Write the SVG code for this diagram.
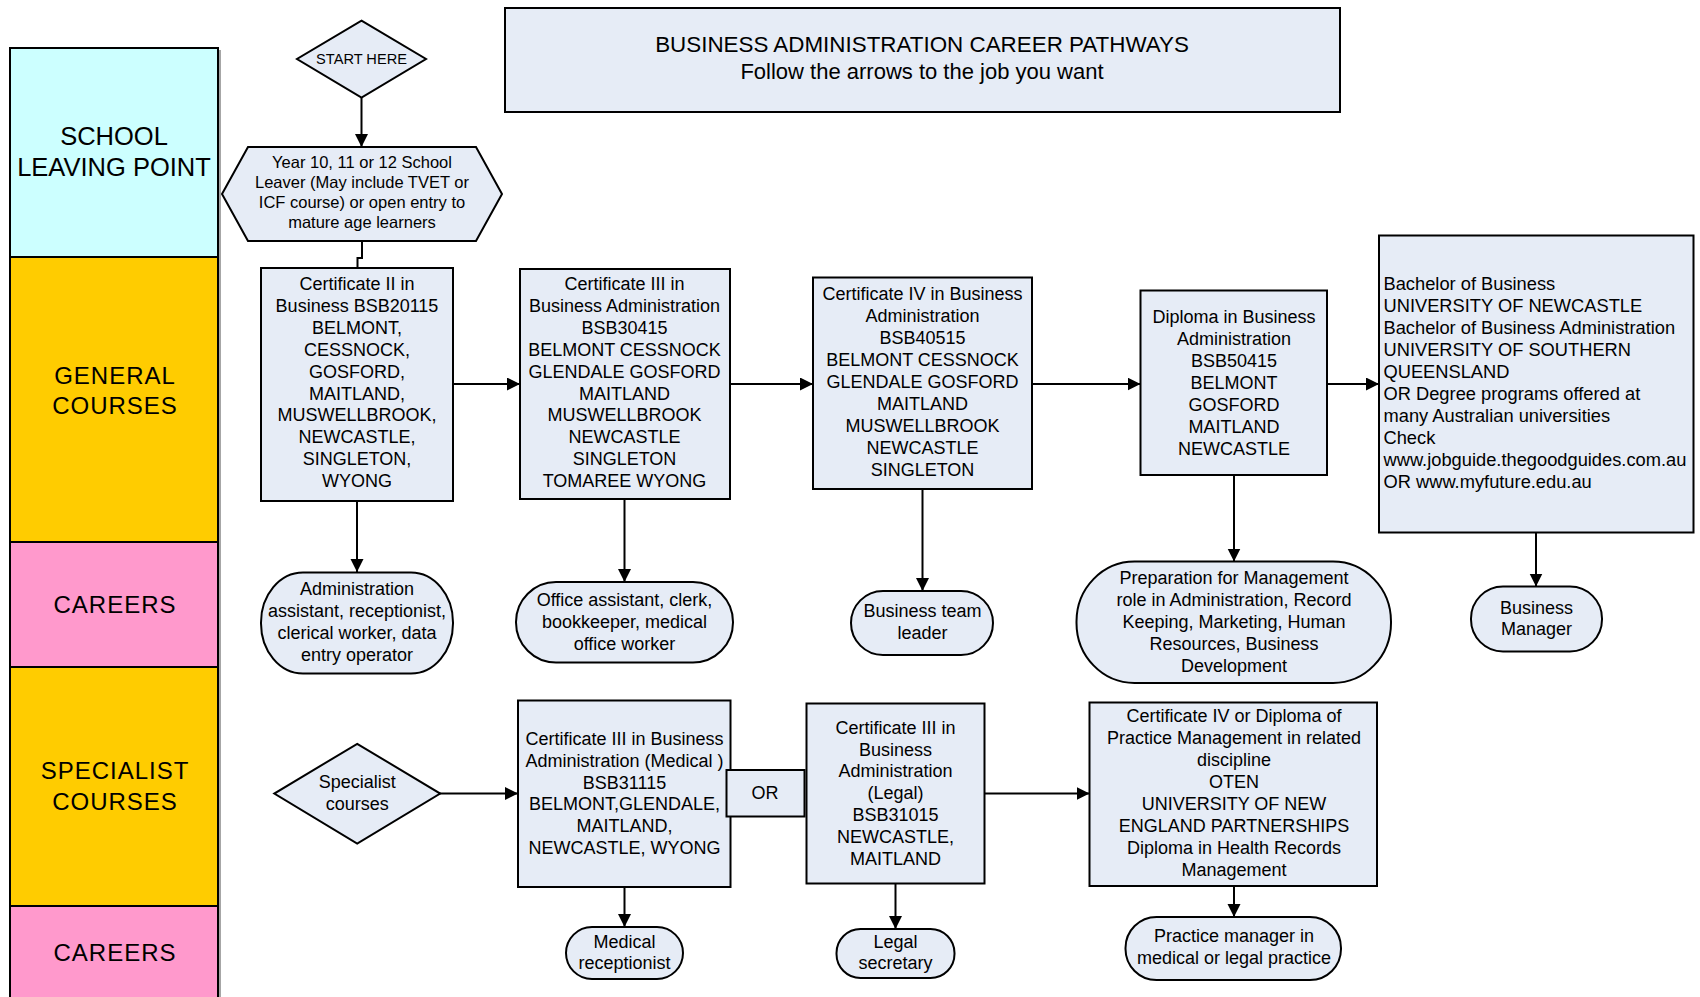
<svg xmlns="http://www.w3.org/2000/svg" width="1700" height="997" viewBox="0 0 1700 997">
<style>
.n{fill:#E6ECF6;stroke:#000;stroke-width:2}
.t{font-family:"Liberation Sans",Arial,sans-serif;font-size:18px;fill:#000;text-anchor:middle}
.s{font-size:16.5px}
.l{text-anchor:start;font-size:18.3px}
.lane{stroke:#000;stroke-width:2}
.lt{font-family:"Liberation Sans",Arial,sans-serif;font-size:24px;letter-spacing:1px;fill:#000;text-anchor:middle}
.c{fill:none;stroke:#000;stroke-width:2}
</style>
<defs>
<marker id="ah" markerWidth="14" markerHeight="14" refX="13" refY="6.5" orient="auto" markerUnits="userSpaceOnUse">
<path d="M0,0 L13,6.5 L0,13 Z" fill="#000"/>
</marker>
</defs>
<rect width="1700" height="997" fill="#fff"/>

<g id="lanes">
<line x1="220" y1="50" x2="220" y2="997" stroke="#888" stroke-width="1.5"/>
<rect class="lane" x="10" y="48" width="208" height="209" fill="#CCFFFF"/>
<rect class="lane" x="10" y="257" width="208" height="285" fill="#FFCC00"/>
<rect class="lane" x="10" y="542" width="208" height="125" fill="#FF99CC"/>
<rect class="lane" x="10" y="667" width="208" height="239" fill="#FFCC00"/>
<rect class="lane" x="10" y="906" width="208" height="100" fill="#FF99CC"/>
<text class="t" x="114" y="145" style="font-size:25.5px">SCHOOL</text>
<text class="t" x="114" y="176" style="font-size:25.5px">LEAVING POINT</text>
<text class="lt" x="115" y="384">GENERAL</text>
<text class="lt" x="115" y="414">COURSES</text>
<text class="lt" x="115" y="613">CAREERS</text>
<text class="lt" x="115" y="779">SPECIALIST</text>
<text class="lt" x="115" y="810">COURSES</text>
<text class="lt" x="115" y="961">CAREERS</text>
</g>

<g id="title">
<rect class="n" x="505" y="8" width="835" height="104"/>
<text class="t" x="922" y="52" style="font-size:22.4px">BUSINESS ADMINISTRATION CAREER PATHWAYS</text>
<text class="t" x="922" y="79" style="font-size:22px">Follow the arrows to the job you want</text>
</g>

<g id="connectors">
<path class="c" d="M361.5,97.6 V147" marker-end="url(#ah)"/>
<path class="c" d="M362,241 V258 H357.5 V268"/>
<path class="c" d="M453,384 H520" marker-end="url(#ah)"/>
<path class="c" d="M730,384 H813" marker-end="url(#ah)"/>
<path class="c" d="M1032,384 H1140.5" marker-end="url(#ah)"/>
<path class="c" d="M1327,384 H1379" marker-end="url(#ah)"/>
<path class="c" d="M357,501 V572" marker-end="url(#ah)"/>
<path class="c" d="M624.5,499 V582" marker-end="url(#ah)"/>
<path class="c" d="M922.5,489 V591" marker-end="url(#ah)"/>
<path class="c" d="M1234,475 V561.5" marker-end="url(#ah)"/>
<path class="c" d="M1536,532.5 V586.5" marker-end="url(#ah)"/>
<path class="c" d="M440,793.6 H518" marker-end="url(#ah)"/>
<path class="c" d="M984.5,793.6 H1089.5" marker-end="url(#ah)"/>
<path class="c" d="M624.5,887 V927" marker-end="url(#ah)"/>
<path class="c" d="M895.5,884 V929" marker-end="url(#ah)"/>
<path class="c" d="M1234,886 V917" marker-end="url(#ah)"/>
</g>

<g id="start">
<polygon class="n" points="361.5,20.6 426,59 361.5,97.6 297,59"/>
<text class="t" x="361.5" y="64" style="font-size:14.6px">START HERE</text>
</g>

<g id="leaver">
<polygon class="n" points="248,147 476,147 502,194 476,241 248,241 222,194"/>
<text class="t s" x="362" y="168">Year 10, 11 or 12 School</text>
<text class="t s" x="362" y="188">Leaver (May include TVET or</text>
<text class="t s" x="362" y="208">ICF course) or open entry to</text>
<text class="t s" x="362" y="228">mature age learners</text>
</g>

<g id="cert2">
<rect class="n" x="261" y="268" width="192" height="233"/>
<text class="t" x="357" y="290">Certificate II in</text>
<text class="t" x="357" y="312">Business BSB20115</text>
<text class="t" x="357" y="334">BELMONT,</text>
<text class="t" x="357" y="356">CESSNOCK,</text>
<text class="t" x="357" y="378">GOSFORD,</text>
<text class="t" x="357" y="400">MAITLAND,</text>
<text class="t" x="357" y="421">MUSWELLBROOK,</text>
<text class="t" x="357" y="443">NEWCASTLE,</text>
<text class="t" x="357" y="465">SINGLETON,</text>
<text class="t" x="357" y="487">WYONG</text>
</g>

<g id="cert3">
<rect class="n" x="520" y="269" width="210" height="230"/>
<text class="t" x="624.5" y="290">Certificate III in</text>
<text class="t" x="624.5" y="312">Business Administration</text>
<text class="t" x="624.5" y="334">BSB30415</text>
<text class="t" x="624.5" y="356">BELMONT CESSNOCK</text>
<text class="t" x="624.5" y="378">GLENDALE GOSFORD</text>
<text class="t" x="624.5" y="400">MAITLAND</text>
<text class="t" x="624.5" y="421">MUSWELLBROOK</text>
<text class="t" x="624.5" y="443">NEWCASTLE</text>
<text class="t" x="624.5" y="465">SINGLETON</text>
<text class="t" x="624.5" y="487">TOMAREE WYONG</text>
</g>

<g id="cert4">
<rect class="n" x="813" y="277.5" width="219" height="211.5"/>
<text class="t" x="922.5" y="300">Certificate IV in Business</text>
<text class="t" x="922.5" y="322">Administration</text>
<text class="t" x="922.5" y="344">BSB40515</text>
<text class="t" x="922.5" y="366">BELMONT CESSNOCK</text>
<text class="t" x="922.5" y="388">GLENDALE GOSFORD</text>
<text class="t" x="922.5" y="410">MAITLAND</text>
<text class="t" x="922.5" y="432">MUSWELLBROOK</text>
<text class="t" x="922.5" y="454">NEWCASTLE</text>
<text class="t" x="922.5" y="476">SINGLETON</text>
</g>

<g id="diploma">
<rect class="n" x="1140.5" y="290.5" width="186.5" height="184.5"/>
<text class="t" x="1234" y="323">Diploma in Business</text>
<text class="t" x="1234" y="345">Administration</text>
<text class="t" x="1234" y="367">BSB50415</text>
<text class="t" x="1234" y="389">BELMONT</text>
<text class="t" x="1234" y="411">GOSFORD</text>
<text class="t" x="1234" y="433">MAITLAND</text>
<text class="t" x="1234" y="455">NEWCASTLE</text>
</g>

<g id="bachelor">
<rect class="n" x="1379" y="235.5" width="314.5" height="297"/>
<text class="t l" x="1383.5" y="290">Bachelor of Business</text>
<text class="t l" x="1383.5" y="312">UNIVERSITY OF NEWCASTLE</text>
<text class="t l" x="1383.5" y="334">Bachelor of Business Administration</text>
<text class="t l" x="1383.5" y="356">UNIVERSITY OF SOUTHERN</text>
<text class="t l" x="1383.5" y="378">QUEENSLAND</text>
<text class="t l" x="1383.5" y="400">OR Degree programs offered at</text>
<text class="t l" x="1383.5" y="422">many Australian universities</text>
<text class="t l" x="1383.5" y="444">Check</text>
<text class="t l" x="1383.5" y="466">www.jobguide.thegoodguides.com.au</text>
<text class="t l" x="1383.5" y="488">OR www.myfuture.edu.au</text>
</g>

<g id="career-admin">
<rect class="n" x="261" y="572.5" width="192" height="101" rx="42" ry="50"/>
<text class="t" x="357" y="595">Administration</text>
<text class="t" x="357" y="617">assistant, receptionist,</text>
<text class="t" x="357" y="639">clerical worker, data</text>
<text class="t" x="357" y="661">entry operator</text>
</g>

<g id="career-office">
<rect class="n" x="516" y="582" width="217" height="80.5" rx="40" ry="40"/>
<text class="t" x="624.5" y="606">Office assistant, clerk,</text>
<text class="t" x="624.5" y="628">bookkeeper, medical</text>
<text class="t" x="624.5" y="650">office worker</text>
</g>

<g id="career-team">
<rect class="n" x="851" y="591" width="142" height="64" rx="32" ry="32"/>
<text class="t" x="922.5" y="617">Business team</text>
<text class="t" x="922.5" y="639">leader</text>
</g>

<g id="career-mgmt">
<rect class="n" x="1076.5" y="561.5" width="314.5" height="121.5" rx="58" ry="60"/>
<text class="t" x="1234" y="584">Preparation for Management</text>
<text class="t" x="1234" y="606">role in Administration, Record</text>
<text class="t" x="1234" y="628">Keeping, Marketing, Human</text>
<text class="t" x="1234" y="650">Resources, Business</text>
<text class="t" x="1234" y="672">Development</text>
</g>

<g id="career-bizmgr">
<rect class="n" x="1471" y="586.5" width="131" height="65" rx="32" ry="32"/>
<text class="t" x="1536.5" y="614">Business</text>
<text class="t" x="1536.5" y="635">Manager</text>
</g>

<g id="specialist">
<polygon class="n" points="357.2,743.8 440.2,793.6 357.2,843.5 274.3,793.6"/>
<text class="t" x="357.2" y="788">Specialist</text>
<text class="t" x="357.2" y="810">courses</text>
</g>

<g id="cert3-medical">
<rect class="n" x="518" y="700.5" width="212.5" height="186.5"/>
<text class="t" x="624.5" y="745">Certificate III in Business</text>
<text class="t" x="624.5" y="767">Administration (Medical )</text>
<text class="t" x="624.5" y="789">BSB31115</text>
<text class="t" x="624.5" y="810">BELMONT,GLENDALE,</text>
<text class="t" x="624.5" y="832">MAITLAND,</text>
<text class="t" x="624.5" y="854">NEWCASTLE, WYONG</text>
</g>

<g id="or">
<rect class="n" x="726.5" y="770" width="78" height="46.5"/>
<text class="t" x="765" y="799">OR</text>
</g>

<g id="cert3-legal">
<rect class="n" x="806.5" y="703.5" width="178" height="180"/>
<text class="t" x="895.5" y="734">Certificate III in</text>
<text class="t" x="895.5" y="756">Business</text>
<text class="t" x="895.5" y="777">Administration</text>
<text class="t" x="895.5" y="799">(Legal)</text>
<text class="t" x="895.5" y="821">BSB31015</text>
<text class="t" x="895.5" y="843">NEWCASTLE,</text>
<text class="t" x="895.5" y="865">MAITLAND</text>
</g>

<g id="practice">
<rect class="n" x="1089.5" y="702.5" width="287.5" height="183.5"/>
<text class="t" x="1234" y="722">Certificate IV or Diploma of</text>
<text class="t" x="1234" y="744">Practice Management in related</text>
<text class="t" x="1234" y="766">discipline</text>
<text class="t" x="1234" y="788">OTEN</text>
<text class="t" x="1234" y="810">UNIVERSITY OF NEW</text>
<text class="t" x="1234" y="832">ENGLAND PARTNERSHIPS</text>
<text class="t" x="1234" y="854">Diploma in Health Records</text>
<text class="t" x="1234" y="876">Management</text>
</g>

<g id="career-medrec">
<rect class="n" x="566" y="927" width="117" height="52" rx="26" ry="26"/>
<text class="t" x="624.5" y="948">Medical</text>
<text class="t" x="624.5" y="969">receptionist</text>
</g>

<g id="career-legalsec">
<rect class="n" x="836.5" y="929" width="118" height="49" rx="24" ry="24"/>
<text class="t" x="895.5" y="948">Legal</text>
<text class="t" x="895.5" y="969">secretary</text>
</g>

<g id="career-practice">
<rect class="n" x="1125.5" y="917" width="215.5" height="63" rx="31" ry="31"/>
<text class="t" x="1234" y="942">Practice manager in</text>
<text class="t" x="1234" y="964">medical or legal practice</text>
</g>
</svg>
